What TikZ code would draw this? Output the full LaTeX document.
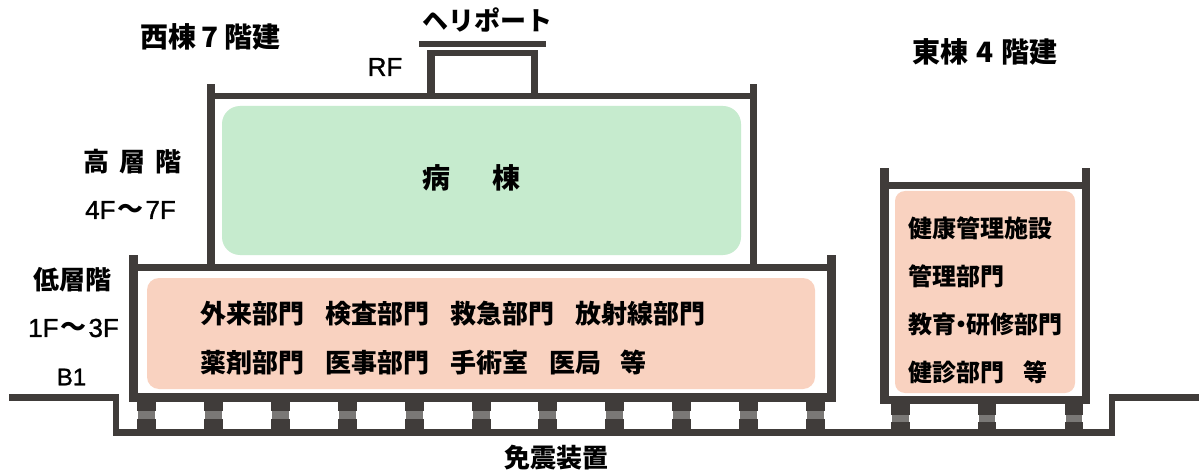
\documentclass[tikz,border=0pt]{standalone}
\usepackage{fontspec}
\setmainfont{Liberation Sans}
\newfontfamily\jp{Noto Sans CJK JP}
\newfontfamily\latb{Liberation Sans}[FakeBold=1.2]
\definecolor{wall}{HTML}{403C3A}
\definecolor{iso}{HTML}{7A7876}
\definecolor{greenroom}{HTML}{C6EBCE}
\definecolor{pinkroom}{HTML}{F9D2C0}
\tikzset{
  x=1pt,y=-1pt,
  jlabel/.style={font=\jp\bfseries\fontsize{26}{26}\selectfont,inner sep=0pt,anchor=west,text=black},
  jlabelE/.style={font=\jp\bfseries\fontsize{24}{24}\selectfont,inner sep=0pt,anchor=west,text=black},
  jhead/.style={font=\jp\bfseries\fontsize{26}{26}\selectfont,inner sep=0pt,anchor=center,text=black},
  jtitle/.style={font=\jp\bfseries\fontsize{28}{28}\selectfont,inner sep=0pt,anchor=center,text=black},
  lat/.style={font=\latb\fontsize{26}{26}\selectfont,inner sep=0pt,anchor=center,text=black},
}
\newcommand{\rect}[4]{\fill[wall] (#1,#2) rectangle (#3,#4);}
\newcommand{\wave}{{\jp\bfseries ～}}
\newcommand{\isoW}[1]{%
  \fill[wall] (#1,402) rectangle ++(18.5,9);
  \fill[iso] (#1+1,411) rectangle ++(16.5,8);
  \fill[wall] (#1,419) rectangle ++(18.5,11);}
\newcommand{\isoE}[1]{%
  \fill[wall] (#1,404) rectangle ++(18.5,11);
  \fill[iso] (#1+1,415) rectangle ++(16.5,7);
  \fill[wall] (#1,422) rectangle ++(18.5,14);}
\begin{document}
\begin{tikzpicture}
\useasboundingbox (0,0) rectangle (1199,473);
\fill[white] (0,0) rectangle (1199,473);
% rooms
\fill[greenroom,rounded corners=18pt] (222,106) rectangle (741,255);
\fill[pinkroom,rounded corners=12pt] (147,278) rectangle (815,389);
\fill[pinkroom,rounded corners=10pt] (895,191) rectangle (1075,393);
% ground
\rect{9}{394}{119}{401}
\rect{113}{394}{119}{436}
\rect{113}{429}{1115}{436}
\rect{1109}{394}{1115}{436}
\rect{1109}{394}{1199}{401}
% west low block
\rect{129}{255}{138}{402}
\rect{827}{255}{836}{402}
\rect{129}{264}{836}{270.5}
\rect{129}{393}{836}{402}
% west high block
\rect{207}{84}{214.5}{270}
\rect{750}{84}{757}{270}
\rect{207}{93}{757}{99.5}
% heliport
\rect{427}{50}{435}{99.5}
\rect{531}{50}{538}{99.5}
\rect{427}{50}{538}{56}
\rect{419}{41}{546}{47}
% east block
\rect{880}{168}{889}{404}
\rect{1082}{168}{1090}{404}
\rect{880}{182}{1090}{189}
\rect{880}{396}{1090}{404}
% isolators
\foreach \i in {137,204,271,338,405,472,538,605,672,739,806} {\isoW{\i}}
\foreach \i in {891,977.5,1064.5} {\isoE{\i}}
% labels
\node[jtitle] (west) at (210.5,37) {西棟\hspace{5pt}7\hspace{5pt}階建};
\node[jtitle] (east) at (985,52) {東棟\hspace{8pt}4\hspace{8pt}階建};
\node[jhead] (heli) at (487,20) {ヘリポート};
\node[lat] (rf) at (385,67) {RF};
\node[jhead] (high) at (132.5,162) {高\hspace{10.5pt}層\hspace{10.5pt}階};
\node[lat] (highf) at (130.5,210) {4F\hspace{2pt}\wave\hspace{2pt}7F};
\node[jhead] (low) at (72.5,280) {低層階};
\node[lat] (lowf) at (73.5,328) {1F\hspace{2pt}\wave\hspace{2pt}3F};
\node[lat,font=\latb\fontsize{24}{24}\selectfont] (b1) at (71.5,377) {B1};
\node[jhead,font=\jp\bfseries\fontsize{28}{28}\selectfont] (ward) at (471,178) {病\hspace{42pt}棟};
\node[jlabel] (l1) at (200,314) {外来部門\hspace{21pt}検査部門\hspace{21pt}救急部門\hspace{21pt}放射線部門};
\node[jlabel] (l2) at (200,363) {薬剤部門\hspace{21pt}医事部門\hspace{21pt}手術室\hspace{21pt}医局\hspace{19pt}等};
\node[jlabelE] (e1) at (908,228) {健康管理施設};
\node[jlabelE] (e2) at (908,276) {管理部門};
\node[jlabelE] (e3) at (908,324) {教育\hspace{-7pt}・\hspace{-7pt}研修部門};
\node[jlabelE] (e4) at (908,372) {健診部門\hspace{19pt}等};
\node[jhead] (base) at (556,458) {免震装置};
\end{tikzpicture}
\end{document}
